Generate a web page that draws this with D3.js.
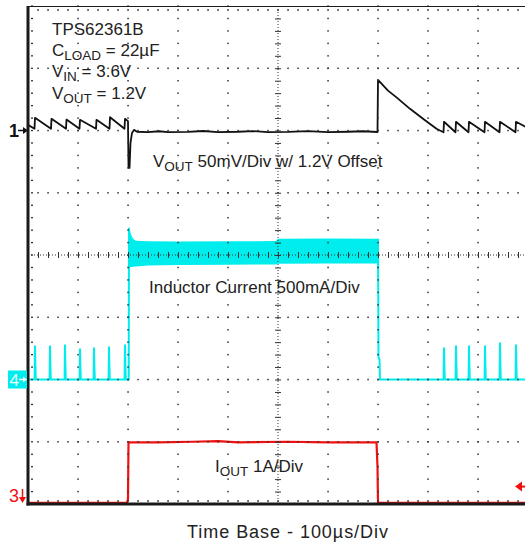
<!DOCTYPE html>
<html>
<head>
<meta charset="utf-8">
<script src="https://cdn.jsdelivr.net/npm/d3@7"></script>
<style>
  html, body { margin: 0; padding: 0; background: #fff; }
  svg { display: block; }
  text { font-family: "Liberation Sans", Arial, Helvetica, sans-serif; fill: #222; }
</style>
</head>
<body>
<div id="scope"></div>
<script>
// scope settings (time in µs, 10 div x 100µs, 8 vertical div)
const timeDomain = [0, 1000];
const divDomain = [-4, 4];

// channel reference (div from center) and scale per div
const ch1Ref = 2,  ch1PerDiv = 50;    // VOUT, mV
const ch4Ref = -2, ch4PerDiv = 500;   // inductor current, mA
const ch3Ref = -4, ch3PerDiv = 1;     // IOUT, A

// VOUT trace [µs, mV]
const voutTrace = [
  [0, 4.5], [13, 1.4], [14, 10.2], [46, 1.4], [47, 9.4], [76, 1.4], [77, 8.8],
  [103, 1.4], [104, 8.6], [136, 1.4], [137, 8.6], [163, 1.4], [164, 10.7],
  [193, 1.4], [194, 9.4], [200, 7.5], [201, -30], [203, -30], [205, -10],
  [208, -2], [212, 0.5], [218, -1], [240, -1.3], [262, -0.6], [280, -1.3],
  [320, -1.1], [350, -0.4], [380, -1.3], [420, -1.0], [450, -0.5], [480, -1.3],
  [520, -1.1], [560, -0.5], [600, -1.3], [640, -1.0], [670, -0.6], [699, -1.2],
  [700, 40.6], [720, 32], [737, 26.6], [764, 17.4], [790, 9.4], [817, 1.4],
  [831, -1.4], [832, 7], [855, -1.4], [856, 7], [881, -1.4], [882, 7],
  [913, -1.4], [914, 7], [943, -1.4], [944, 7], [975, -1.4], [976, 7], [1000, 2]
];

// inductor current PFM pulses [µs, peak mA]
const pulsesBefore = [[14, 273], [44, 273], [74, 281], [104, 249], [132, 257], [162, 265], [194, 281]];
const pulsesAfter = [[832, 257], [856, 273], [882, 273], [914, 273], [944, 297], [976, 281]];

// inductor current switching band envelope under load [µs, mA]
const bandTop = [
  [202, 1218], [204, 1200], [206, 1165], [210, 1130], [216, 1115], [240, 1110],
  [300, 1108], [400, 1110], [496, 1112], [500, 1130], [600, 1132], [700, 1130]
];
const bandBottom = [
  [202, 900], [210, 905], [230, 915], [300, 920], [400, 922], [496, 924],
  [500, 930], [600, 932], [700, 932]
];
// falling edge after load release [µs, mA]
const releaseEdge = [[700, 1130], [701, 180], [703, 160], [704, 0], [712, 0]];

// IOUT trace [µs, A]
const ioutTrace = [
  [0, 0.02], [198, 0.02], [200, 0.08], [201, 0.99], [260, 0.99], [330, 1.0],
  [380, 1.01], [420, 0.99], [520, 1.0], [600, 0.99], [697, 0.99], [699, 0.6],
  [700, 0.02], [1000, 0.02]
];

const infoLines = [
  ["TPS62361B", "", ""],
  ["C", "LOAD", " = 22µF"],
  ["V", "IN", " = 3.6V"],
  ["V", "OUT", " = 1.2V"]
];

const width = 525, height = 546;
const svg = d3.select("#scope").append("svg")
  .attr("width", width)
  .attr("height", height);

const x = d3.scaleLinear().domain(timeDomain).range([28, 528]);
const y = d3.scaleLinear().domain(divDomain).range([504, 6]);

const plot = svg.append("g");
plot.append("clipPath").attr("id", "clip")
  .append("rect").attr("x", 28).attr("y", 6).attr("width", 500).attr("height", 498);

const traces = plot.append("g").attr("clip-path", "url(#clip)");

// --- cyan: inductor current
const ch4 = v => y(ch4Ref + v / ch4PerDiv);
const bottomAt = d3.scaleLinear().domain(bandBottom.map(b => b[0])).range(bandBottom.map(b => b[1]));
traces.append("path")
  .datum(bandTop)
  .attr("fill", "#00eded")
  .attr("stroke", "none")
  .attr("d", d3.area()
    .x(d => x(d[0]))
    .y0(d => ch4(bottomAt(d[0])))
    .y1(d => ch4(d[1])));

function pulsePoints(p) {
  return [[p[0] - 0.8, 0], [p[0], p[1]], [p[0] + 0.6, p[1] * 0.5], [p[0] + 1.6, 0]];
}
const inductorLine = [[0, 0]]
  .concat(...pulsesBefore.map(pulsePoints))
  .concat([[201.5, 0], [202, bandTop[0][1]]]);
const inductorLine2 = releaseEdge.concat(...pulsesAfter.map(pulsePoints)).concat([[1000, 0]]);

const line4 = d3.line().x(d => x(d[0])).y(d => ch4(d[1]));
[inductorLine, inductorLine2].forEach(l => {
  traces.append("path")
    .datum(l)
    .attr("fill", "none")
    .attr("stroke", "#00eded")
    .attr("stroke-width", 2)
    .attr("d", line4);
});

// --- red: IOUT
traces.append("path")
  .datum(ioutTrace)
  .attr("fill", "none")
  .attr("stroke", "#f01010")
  .attr("stroke-width", 2.2)
  .attr("d", d3.line().x(d => x(d[0])).y(d => y(ch3Ref + d[1] / ch3PerDiv)));

// --- black: VOUT
traces.append("path")
  .datum(voutTrace)
  .attr("fill", "none")
  .attr("stroke", "#111")
  .attr("stroke-width", 1.8)
  .attr("stroke-linejoin", "round")
  .attr("d", d3.line().x(d => x(d[0])).y(d => y(ch1Ref + d[1] / ch1PerDiv)));

// --- graticule (drawn over traces, like the scope)
const grid = plot.append("g").attr("fill", "#333");
const majorT = d3.range(100, 1000, 100);
const majorD = d3.range(-3, 4, 1);
const minorT = d3.range(0, 1001, 20);
const minorD = d3.range(-4, 4.01, 0.2);

majorT.filter(t => t !== 500).forEach(t => {
  grid.selectAll(null).data(minorD).enter().append("rect")
    .attr("x", x(t) - 0.7).attr("y", d => y(d) - 0.7)
    .attr("width", 1.5).attr("height", 1.5);
});
majorD.filter(d => d !== 0).forEach(dv => {
  grid.selectAll(null).data(minorT).enter().append("rect")
    .attr("x", t => x(t) - 0.7).attr("y", y(dv) - 0.7)
    .attr("width", 1.5).attr("height", 1.5);
});
// frame ticks
grid.selectAll(null).data(minorT).enter().append("rect")
  .attr("x", t => x(t) - 0.6).attr("y", y(-4) - 4).attr("width", 1.3).attr("height", 2);
grid.selectAll(null).data(minorT).enter().append("rect")
  .attr("x", t => x(t) - 0.6).attr("y", y(4) + 3).attr("width", 1.3).attr("height", 2);
grid.selectAll(null).data(minorD).enter().append("rect")
  .attr("x", x(0) + 3).attr("y", d => y(d) - 0.6).attr("width", 2).attr("height", 1.3);

// center cross
const cross = plot.append("g").attr("stroke", "#333").attr("stroke-width", 1);
cross.append("line")
  .attr("x1", x(0)).attr("x2", x(1000)).attr("y1", y(0)).attr("y2", y(0))
  .attr("stroke-dasharray", "1,2");
cross.append("line")
  .attr("x1", x(500)).attr("x2", x(500)).attr("y1", y(4)).attr("y2", y(-4))
  .attr("stroke-dasharray", "1,2");
cross.selectAll(null).data(minorT).enter().append("line")
  .attr("x1", t => x(t) + 0.5).attr("x2", t => x(t) + 0.5)
  .attr("y1", y(0) - 3).attr("y2", y(0) + 3);
cross.selectAll(null).data(minorD).enter().append("line")
  .attr("x1", x(500) - 3).attr("x2", x(500) + 3)
  .attr("y1", d => y(d) + 0.5).attr("y2", d => y(d) + 0.5);

// frame
const frame = plot.append("g").attr("stroke", "#1a1a1a");
frame.append("line").attr("x1", x(0)).attr("x2", x(1000)).attr("y1", y(4) + 0.5).attr("y2", y(4) + 0.5).attr("stroke-width", 1.2);
frame.append("line").attr("x1", x(0)).attr("x2", x(0)).attr("y1", y(4)).attr("y2", y(-4) + 1.5).attr("stroke-width", 3);
frame.append("line").attr("x1", x(0) - 1.5).attr("x2", x(1000)).attr("y1", y(-4)).attr("y2", y(-4)).attr("stroke-width", 3);

// --- channel markers
const m1 = y(ch1Ref);
svg.append("text").attr("x", 9).attr("y", m1 + 6.5)
  .style("font-size", "18px").style("font-weight", "bold").style("fill", "#111").text("1");
svg.append("line").attr("x1", 18).attr("x2", 25).attr("y1", m1).attr("y2", m1)
  .attr("stroke", "#111").attr("stroke-width", 1.5);
svg.append("path").attr("d", `M28,${m1} l-5,-3.5 v7 z`).attr("fill", "#111");

const m4 = y(ch4Ref);
svg.append("rect").attr("x", 8).attr("y", m4 - 9).attr("width", 19).attr("height", 18).attr("fill", "#00eded");
svg.append("text").attr("x", 9.5).attr("y", m4 + 6)
  .style("font-size", "17px").style("fill", "#e8ffff").text("4");
svg.append("line").attr("x1", 19).attr("x2", 24).attr("y1", m4).attr("y2", m4)
  .attr("stroke", "#e8ffff").attr("stroke-width", 1.5);
svg.append("path").attr("d", `M27,${m4} l-4,-3 v6 z`).attr("fill", "#e8ffff");

const m3 = y(ch3Ref);
svg.append("text").attr("x", 9).attr("y", m3 - 2)
  .style("font-size", "18px").style("fill", "#f01010").text("3");
svg.append("line").attr("x1", 22.5).attr("x2", 22.5).attr("y1", m3 - 15).attr("y2", m3 - 6)
  .attr("stroke", "#f01010").attr("stroke-width", 1.5);
svg.append("path").attr("d", `M22.5,${m3 - 1} l-3.5,-6 h7 z`).attr("fill", "#f01010");

// trigger level marker (right)
const trig = y(ch3Ref + 0.28);
svg.append("path").attr("d", `M515,${trig} l7,-5 v10 z`).attr("fill", "#f01010");
svg.append("line").attr("x1", 520).attr("x2", 525).attr("y1", trig).attr("y2", trig)
  .attr("stroke", "#f01010").attr("stroke-width", 2);

// --- annotation text
const info = svg.append("g");
infoLines.forEach((l, i) => {
  const t = info.append("text").attr("x", 52).attr("y", [35, 56, 77, 99][i]).style("font-size", "17px");
  t.append("tspan").text(l[0]);
  if (l[1]) {
    t.append("tspan").attr("dy", 4).style("font-size", "13.5px").text(l[1]);
    t.append("tspan").attr("dy", -4).text(l[2]);
  }
});

const voutLabel = svg.append("text").attr("x", 153).attr("y", 167).style("font-size", "17px");
voutLabel.append("tspan").text("V");
voutLabel.append("tspan").attr("dy", 4).style("font-size", "13.5px").text("OUT");
voutLabel.append("tspan").attr("dy", -4).text(" 50mV/Div w/ 1.2V Offset");

svg.append("text").attr("x", 149).attr("y", 293).style("font-size", "17px")
  .text("Inductor Current 500mA/Div");

const ioutLabel = svg.append("text").attr("x", 215).attr("y", 472).style("font-size", "17px");
ioutLabel.append("tspan").text("I");
ioutLabel.append("tspan").attr("dy", 4).style("font-size", "13.5px").text("OUT");
ioutLabel.append("tspan").attr("dy", -4).text(" 1A/Div");

svg.append("text").attr("x", 187).attr("y", 538).style("font-size", "18px")
  .attr("textLength", 201).attr("lengthAdjust", "spacing")
  .text("Time Base - 100µs/Div");
</script>
</body>
</html>
